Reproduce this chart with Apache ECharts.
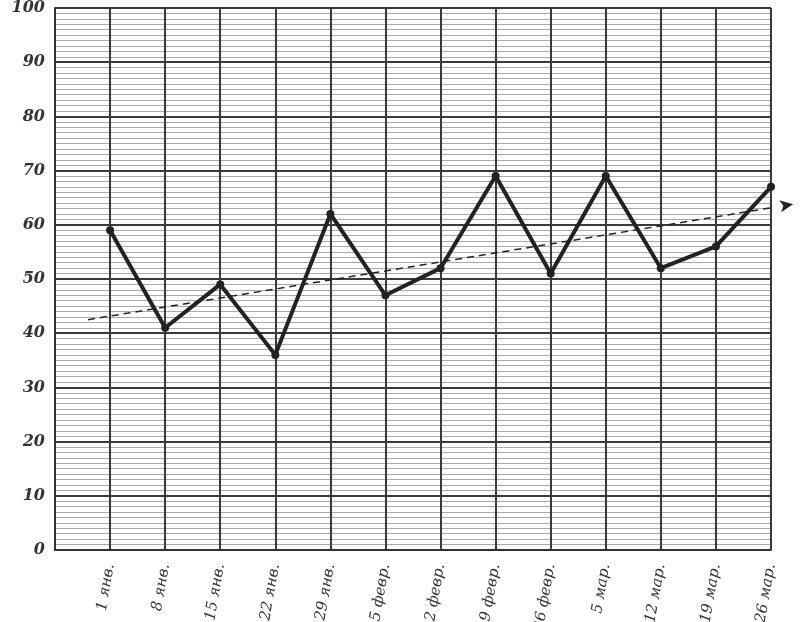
<!DOCTYPE html>
<html>
<head>
<meta charset="utf-8">
<script src="https://cdn.jsdelivr.net/npm/echarts@6/dist/echarts.min.js"></script>
<style>
  html, body { margin: 0; padding: 0; background: #fff; }
  #chart { width: 800px; height: 622px; }
</style>
</head>
<body>
<div id="chart"></div>
<script>
// weeks (x positions 1..13, position 0 is the empty first column)
var weeks = ["1 янв.", "8 янв.", "15 янв.", "22 янв.", "29 янв.", "5 февр.", "12 февр.",
  "19 февр.", "26 февр.", "5 мар.", "12 мар.", "19 мар.", "26 мар."];
var values = [59, 41, 49, 36, 62, 47, 52, 69, 51, 69, 52, 56, 67];
// trend line ends, in axis units
var trendStart = [0.6, 42.5];
var trendEnd = [13.4, 63.8];

var points = [];
for (var i = 0; i < values.length; i++) {
  points.push([i + 1, values[i]]);
}

var chart = echarts.init(document.getElementById("chart"));
var option = {
  backgroundColor: "#fff",
  animation: false,
  grid: { left: 55, right: 29, top: 8, bottom: 72, outerBoundsMode: "none", containLabel: false },
  xAxis: {
    type: "value",
    min: 0,
    max: weeks.length,
    interval: 1,
    axisLine: { show: true, lineStyle: { color: "#333", width: 2 } },
    axisTick: { show: false },
    splitLine: { show: true, lineStyle: { color: "#3a3a3a", width: 2 } },
    axisLabel: {
      rotate: 80,
      margin: 14,
      fontFamily: "DejaVu Serif",
      fontStyle: "italic",
      fontSize: 15,
      color: "#333",
      showMinLabel: true,
      formatter: function (v) {
        return v >= 1 ? weeks[v - 1] : "";
      }
    }
  },
  yAxis: {
    type: "value",
    min: 0,
    max: 100,
    interval: 10,
    axisLine: { show: true, lineStyle: { color: "#333", width: 2 } },
    axisTick: { show: false },
    minorTick: { show: false, splitNumber: 10 },
    splitLine: { show: true, lineStyle: { color: "#3a3a3a", width: 2 } },
    minorSplitLine: { show: true, lineStyle: { color: "#aaa", width: 1 } },
    axisLabel: {
      margin: 10,
      fontFamily: "DejaVu Serif",
      fontStyle: "italic",
      fontWeight: "bold",
      fontSize: 16,
      color: "#333"
    }
  },
  series: [
    {
      // dashed trend with an arrow head at its end
      type: "line",
      clip: false,
      silent: true,
      data: [
        { value: trendStart, symbol: "none" },
        { value: trendEnd, symbol: "arrow", symbolSize: [9, 13], symbolRotate: -81 }
      ],
      itemStyle: { color: "#222" },
      lineStyle: { color: "#222", type: [7, 5], width: 1.5 },
      z: 3
    },
    {
      type: "line",
      data: points,
      clip: false,
      symbol: "circle",
      symbolSize: 8,
      itemStyle: { color: "#222" },
      lineStyle: { color: "#222", width: 4 },
      z: 4
    }
  ]
};
chart.setOption(option);
</script>
</body>
</html>
